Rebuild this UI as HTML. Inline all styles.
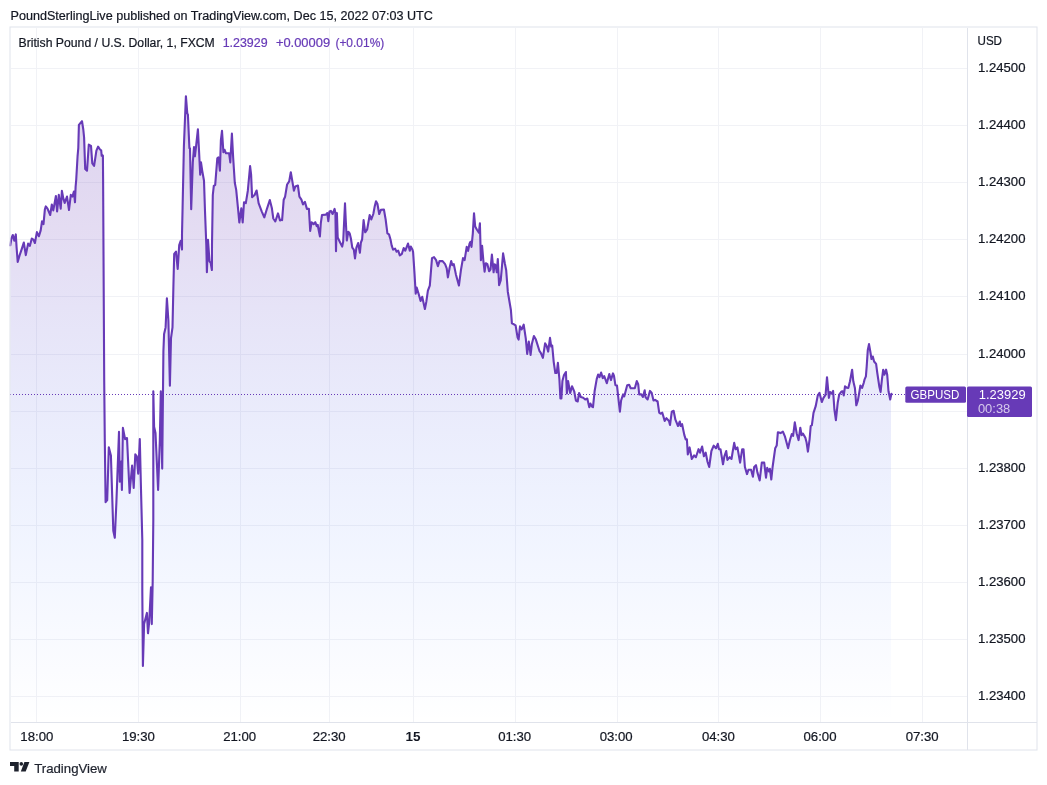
<!DOCTYPE html>
<html lang="en"><head><meta charset="utf-8"><title>GBPUSD chart</title>
<style>
html,body{margin:0;padding:0;background:#fff;}
body{width:1047px;height:785px;overflow:hidden;position:relative;font-family:"Liberation Sans",sans-serif;}
svg{position:absolute;left:0;top:0;display:block;will-change:transform;}
text{font-family:"Liberation Sans",sans-serif;font-size:12px;fill:#131722;stroke:#131722;stroke-width:0.2px;}
</style></head><body>
<svg width="1047" height="785" viewBox="0 0 1047 785">
<defs>
<linearGradient id="g" gradientUnits="userSpaceOnUse" x1="0" y1="28" x2="0" y2="722">
<stop offset="0" stop-color="rgb(103,58,183)" stop-opacity="0.25"/>
<stop offset="0.291" stop-color="rgb(103,58,183)" stop-opacity="0.177"/>
<stop offset="0.749" stop-color="rgb(41,98,255)" stop-opacity="0.063"/>
<stop offset="1" stop-color="rgb(41,98,255)" stop-opacity="0"/>
</linearGradient>
</defs>
<rect x="0" y="0" width="1047" height="785" fill="#fff"/>
<clipPath id="ac"><rect x="10" y="28" width="881" height="694"/></clipPath>

<g stroke="#f1f2f6" stroke-width="1" shape-rendering="crispEdges">
<line x1="36.5" y1="28" x2="36.5" y2="722"/>
<line x1="138.5" y1="28" x2="138.5" y2="722"/>
<line x1="240.5" y1="28" x2="240.5" y2="722"/>
<line x1="329.5" y1="28" x2="329.5" y2="722"/>
<line x1="413.5" y1="28" x2="413.5" y2="722"/>
<line x1="515.5" y1="28" x2="515.5" y2="722"/>
<line x1="617.5" y1="28" x2="617.5" y2="722"/>
<line x1="718.5" y1="28" x2="718.5" y2="722"/>
<line x1="820.5" y1="28" x2="820.5" y2="722"/>
<line x1="922.5" y1="28" x2="922.5" y2="722"/>
<line x1="11" y1="68.5" x2="967" y2="68.5"/>
<line x1="11" y1="125.5" x2="967" y2="125.5"/>
<line x1="11" y1="182.5" x2="967" y2="182.5"/>
<line x1="11" y1="239.5" x2="967" y2="239.5"/>
<line x1="11" y1="296.5" x2="967" y2="296.5"/>
<line x1="11" y1="354.5" x2="967" y2="354.5"/>
<line x1="11" y1="411.5" x2="967" y2="411.5"/>
<line x1="11" y1="468.5" x2="967" y2="468.5"/>
<line x1="11" y1="525.5" x2="967" y2="525.5"/>
<line x1="11" y1="582.5" x2="967" y2="582.5"/>
<line x1="11" y1="639.5" x2="967" y2="639.5"/>
<line x1="11" y1="696.5" x2="967" y2="696.5"/>
</g>
<path d="M10.3,245.3 L11.4,238.5 L12.8,235.0 L14.3,240.7 L15.8,234.4 L16.6,247.6 L17.7,261.9 L19.5,255.6 L21.8,248.8 L23.8,242.5 L25.8,255.1 L28.1,243.6 L29.8,245.9 L31.8,238.5 L33.4,239.6 L34.9,243.0 L36.9,232.1 L38.9,236.2 L40.7,230.4 L42.0,221.3 L43.5,224.1 L44.9,209.2 L45.8,206.4 L47.5,208.7 L50.2,215.0 L51.8,204.6 L53.3,210.4 L55.9,196.0 L57.1,211.5 L58.8,194.9 L60.7,208.7 L61.9,190.9 L63.4,198.9 L64.7,202.9 L67.0,196.6 L69.0,210.0 L70.8,194.9 L72.4,196.6 L73.9,191.5 L75.0,202.3 L75.6,186.9 L76.2,180.0 L77.6,155.8 L78.3,147.8 L78.9,124.9 L82.0,121.2 L83.3,129.5 L84.1,137.5 L85.2,169.0 L87.0,170.7 L88.8,144.6 L91.0,145.8 L92.3,163.3 L94.1,165.8 L96.4,150.7 L98.1,146.7 L100.0,149.5 L101.2,150.3 L101.7,155.8 L102.9,155.6 L103.1,178.8 L104.2,380.0 L104.8,441.1 L105.6,502.2 L107.2,500.2 L108.8,447.2 L110.9,455.4 L113.3,530.7 L114.8,537.8 L116.4,502.2 L119.0,431.9 L119.8,481.8 L121.1,461.5 L121.9,490.0 L122.9,427.9 L125.1,439.1 L127.0,438.0 L129.6,493.0 L132.1,465.5 L133.7,487.9 L135.3,454.3 L136.8,456.4 L138.2,473.7 L139.8,439.1 L140.8,481.8 L142.3,539.9 L142.3,591.4 L142.9,665.9 L144.1,624.1 L146.9,612.9 L148.0,633.3 L149.2,622.0 L151.0,587.3 L151.8,624.1 L152.7,581.2 L153.3,520.0 L153.3,391.2 L154.1,426.8 L155.5,433.0 L158.1,490.0 L159.8,441.1 L160.8,391.2 L162.2,468.6 L163.4,351.2 L164.1,333.9 L165.6,327.4 L166.9,298.2 L168.4,320.9 L169.9,385.8 L171.0,338.2 L172.5,327.4 L173.4,286.3 L174.2,253.8 L176.0,251.6 L177.7,269.0 L179.2,245.2 L180.7,240.8 L182.0,249.5 L182.0,234.8 L182.6,207.2 L183.9,146.1 L185.9,96.2 L187.3,113.5 L187.9,114.5 L189.4,148.2 L190.0,148.2 L191.2,209.3 L192.8,162.4 L194.0,147.1 L194.9,156.3 L196.1,146.1 L197.9,129.4 L199.1,152.2 L200.2,174.6 L201.0,162.4 L202.2,170.6 L204.0,180.8 L205.0,211.3 L206.3,244.9 L206.9,272.2 L208.0,239.7 L209.5,261.4 L210.6,262.5 L211.9,270.0 L212.0,244.9 L212.8,195.0 L213.8,185.9 L215.2,184.8 L217.3,158.3 L218.5,157.3 L219.9,170.6 L220.9,140.0 L222.0,130.8 L223.4,152.2 L224.6,149.8 L226.0,153.3 L229.1,153.3 L230.3,162.4 L231.9,133.5 L233.2,158.3 L234.8,182.8 L236.2,189.9 L238.3,211.3 L239.3,222.5 L241.3,208.3 L242.7,222.5 L244.0,202.2 L245.8,203.2 L247.8,190.9 L250.1,166.1 L251.1,174.6 L252.1,197.1 L254.6,195.0 L256.6,190.5 L258.6,203.2 L261.7,211.3 L264.3,217.4 L266.8,209.3 L269.8,200.1 L271.9,208.3 L273.3,218.5 L275.3,221.5 L278.0,213.4 L280.0,220.5 L282.1,219.5 L282.1,220.1 L283.7,199.7 L285.1,196.7 L287.1,184.5 L289.2,181.4 L290.8,172.2 L292.2,180.4 L293.9,190.6 L295.3,186.5 L297.9,185.5 L299.4,196.7 L301.4,199.7 L303.0,204.4 L304.9,201.8 L306.9,208.9 L308.9,208.9 L310.2,230.9 L311.6,222.2 L313.6,224.2 L315.3,222.2 L316.7,226.2 L317.7,224.8 L318.7,230.3 L319.9,236.4 L320.8,223.2 L322.0,215.0 L325.9,214.6 L327.3,213.0 L328.3,221.1 L329.5,211.4 L330.9,210.9 L332.6,214.0 L334.6,208.9 L335.4,213.0 L336.0,251.3 L336.9,213.0 L337.7,237.4 L340.1,242.5 L342.2,246.6 L343.2,241.5 L345.0,203.2 L345.8,221.1 L346.8,240.5 L348.3,231.7 L349.7,233.4 L350.9,238.5 L352.3,247.6 L353.8,249.7 L355.0,258.4 L356.4,247.6 L358.1,243.1 L359.9,252.7 L360.9,242.5 L362.1,239.5 L363.6,220.1 L365.2,232.3 L367.2,229.3 L369.7,215.0 L371.3,219.5 L373.3,214.0 L374.8,205.9 L376.0,201.2 L377.4,203.8 L379.2,214.0 L380.9,209.9 L383.9,209.5 L385.6,219.1 L387.4,233.4 L389.0,234.4 L390.5,239.5 L391.7,245.6 L393.1,249.7 L395.1,248.6 L396.6,251.7 L398.2,250.7 L399.8,255.4 L401.7,254.2 L403.7,248.0 L405.3,250.7 L408.0,243.6 L409.8,250.7 L410.8,246.6 L412.5,249.7 L413.1,252.0 L414.5,273.4 L415.7,293.7 L416.7,287.6 L418.6,293.7 L420.6,300.9 L422.2,296.8 L424.9,309.0 L426.3,301.9 L427.9,290.7 L429.8,285.6 L432.0,258.1 L434.0,257.1 L436.1,260.1 L437.9,266.2 L439.5,261.1 L442.6,261.1 L445.1,264.2 L446.7,268.3 L447.9,277.4 L449.7,267.3 L451.2,261.1 L452.4,265.2 L453.8,264.2 L455.9,274.4 L458.9,285.6 L460.9,270.3 L463.0,258.1 L464.6,260.1 L466.7,246.9 L468.1,250.9 L469.5,243.8 L470.5,241.8 L471.5,246.9 L472.8,233.6 L474.0,213.2 L475.2,226.5 L476.8,229.5 L478.9,232.6 L479.9,223.4 L480.9,260.1 L482.1,245.9 L483.4,261.1 L484.6,271.7 L485.8,263.2 L487.4,264.2 L489.1,271.3 L490.5,269.3 L491.9,254.6 L493.6,272.3 L494.6,264.2 L495.6,265.2 L496.8,272.3 L497.8,259.1 L499.1,285.2 L500.7,280.5 L501.7,269.3 L503.1,253.4 L504.8,263.2 L506.2,270.3 L507.8,291.7 L510.9,310.0 L511.9,323.3 L513.9,324.3 L515.6,325.3 L517.6,337.6 L518.6,339.6 L520.0,326.4 L521.7,329.4 L523.7,324.7 L525.8,338.6 L527.2,353.9 L528.8,341.6 L530.6,354.9 L531.9,343.7 L533.9,336.1 L535.9,339.6 L539.4,350.8 L540.8,352.8 L542.9,357.9 L545.1,343.4 L546.5,345.5 L548.2,351.6 L550.0,337.9 L551.2,346.5 L552.2,345.5 L553.7,361.8 L555.3,373.0 L556.7,373.0 L557.9,362.8 L559.4,379.1 L560.4,398.5 L561.4,398.5 L562.4,381.1 L564.0,375.0 L565.9,372.0 L566.9,393.4 L568.1,381.1 L570.2,393.0 L572.0,386.2 L574.2,391.3 L575.9,400.5 L577.7,401.5 L579.1,393.0 L580.8,397.0 L583.2,397.8 L585.2,399.5 L587.3,398.5 L589.3,407.2 L590.5,403.6 L592.0,406.6 L593.0,407.2 L594.6,391.3 L596.7,379.1 L598.1,374.6 L599.5,377.1 L601.1,372.6 L602.8,378.1 L604.2,376.0 L606.8,383.2 L609.3,374.0 L610.9,380.1 L613.0,373.4 L614.0,376.0 L615.4,385.2 L617.0,385.6 L618.5,399.5 L619.9,411.7 L621.1,400.5 L623.1,394.4 L624.2,396.4 L627.2,385.2 L629.1,384.8 L630.7,388.3 L634.8,388.3 L636.8,381.1 L638.2,384.2 L639.2,394.4 L641.3,394.4 L642.9,397.0 L644.7,390.3 L645.6,397.4 L647.6,399.5 L650.0,390.9 L651.7,393.0 L653.5,400.5 L655.1,399.9 L657.6,401.5 L659.2,412.7 L660.6,413.7 L662.3,412.7 L664.7,420.9 L666.4,418.2 L669.0,420.9 L670.0,425.0 L671.8,411.7 L673.6,410.8 L675.4,419.7 L678.0,426.0 L679.8,421.5 L680.7,426.0 L682.1,424.2 L684.3,434.9 L685.7,439.4 L686.9,439.4 L687.8,454.5 L689.6,447.4 L691.8,459.0 L694.1,455.4 L695.9,457.2 L698.5,449.2 L700.0,452.7 L702.1,446.5 L703.9,456.3 L705.7,452.7 L707.5,461.7 L709.2,467.0 L711.4,451.0 L713.7,445.6 L716.0,448.3 L717.8,443.8 L719.0,449.2 L720.5,449.2 L723.0,464.3 L724.4,456.3 L726.2,451.0 L727.4,459.9 L729.7,457.2 L731.5,459.0 L732.8,451.0 L734.2,442.9 L735.6,449.2 L737.4,447.4 L740.1,462.6 L742.2,449.2 L743.5,449.2 L744.9,467.0 L747.0,474.1 L748.5,469.7 L751.1,469.7 L752.9,476.8 L754.2,467.0 L756.0,465.2 L757.4,472.4 L759.7,480.4 L761.8,462.6 L764.2,462.6 L766.0,477.7 L767.2,467.9 L769.0,471.5 L769.9,468.8 L771.3,479.5 L772.6,467.0 L775.2,448.3 L776.7,445.6 L777.9,432.2 L780.6,433.1 L782.9,431.7 L785.0,436.7 L788.1,448.3 L789.9,440.3 L791.8,434.0 L793.1,435.8 L794.8,422.4 L796.7,433.5 L798.6,440.1 L800.3,427.7 L801.6,435.1 L802.9,433.5 L805.3,437.6 L806.6,442.6 L807.9,451.7 L809.6,439.3 L810.7,426.0 L811.9,425.2 L813.5,412.8 L815.7,406.2 L817.8,395.4 L819.5,392.9 L821.8,402.0 L823.5,397.9 L825.6,394.6 L827.0,377.2 L828.9,397.9 L830.1,392.1 L831.8,393.7 L833.1,390.9 L834.4,409.5 L835.9,420.2 L837.7,402.8 L839.2,394.6 L841.4,391.6 L842.7,391.3 L843.8,395.4 L845.0,386.3 L846.7,387.6 L848.3,387.9 L850.0,381.3 L852.1,369.7 L853.3,381.3 L854.9,387.9 L856.3,405.3 L857.9,400.4 L859.2,392.9 L860.4,385.5 L862.1,387.9 L863.7,383.0 L864.5,379.7 L865.9,376.4 L866.7,366.4 L867.8,349.9 L869.0,344.1 L870.3,351.5 L871.5,359.0 L872.8,356.5 L874.1,361.5 L876.1,363.9 L877.3,373.0 L879.4,387.1 L880.6,392.1 L881.9,379.7 L883.2,369.7 L884.4,374.7 L886.1,369.7 L887.2,374.7 L888.5,391.3 L890.2,399.5 L891.4,393.7 L891.4,722 L10.3,722 Z" fill="url(#g)" stroke="none" clip-path="url(#ac)"/>
<path d="M10.3,245.3 L11.4,238.5 L12.8,235.0 L14.3,240.7 L15.8,234.4 L16.6,247.6 L17.7,261.9 L19.5,255.6 L21.8,248.8 L23.8,242.5 L25.8,255.1 L28.1,243.6 L29.8,245.9 L31.8,238.5 L33.4,239.6 L34.9,243.0 L36.9,232.1 L38.9,236.2 L40.7,230.4 L42.0,221.3 L43.5,224.1 L44.9,209.2 L45.8,206.4 L47.5,208.7 L50.2,215.0 L51.8,204.6 L53.3,210.4 L55.9,196.0 L57.1,211.5 L58.8,194.9 L60.7,208.7 L61.9,190.9 L63.4,198.9 L64.7,202.9 L67.0,196.6 L69.0,210.0 L70.8,194.9 L72.4,196.6 L73.9,191.5 L75.0,202.3 L75.6,186.9 L76.2,180.0 L77.6,155.8 L78.3,147.8 L78.9,124.9 L82.0,121.2 L83.3,129.5 L84.1,137.5 L85.2,169.0 L87.0,170.7 L88.8,144.6 L91.0,145.8 L92.3,163.3 L94.1,165.8 L96.4,150.7 L98.1,146.7 L100.0,149.5 L101.2,150.3 L101.7,155.8 L102.9,155.6 L103.1,178.8 L104.2,380.0 L104.8,441.1 L105.6,502.2 L107.2,500.2 L108.8,447.2 L110.9,455.4 L113.3,530.7 L114.8,537.8 L116.4,502.2 L119.0,431.9 L119.8,481.8 L121.1,461.5 L121.9,490.0 L122.9,427.9 L125.1,439.1 L127.0,438.0 L129.6,493.0 L132.1,465.5 L133.7,487.9 L135.3,454.3 L136.8,456.4 L138.2,473.7 L139.8,439.1 L140.8,481.8 L142.3,539.9 L142.3,591.4 L142.9,665.9 L144.1,624.1 L146.9,612.9 L148.0,633.3 L149.2,622.0 L151.0,587.3 L151.8,624.1 L152.7,581.2 L153.3,520.0 L153.3,391.2 L154.1,426.8 L155.5,433.0 L158.1,490.0 L159.8,441.1 L160.8,391.2 L162.2,468.6 L163.4,351.2 L164.1,333.9 L165.6,327.4 L166.9,298.2 L168.4,320.9 L169.9,385.8 L171.0,338.2 L172.5,327.4 L173.4,286.3 L174.2,253.8 L176.0,251.6 L177.7,269.0 L179.2,245.2 L180.7,240.8 L182.0,249.5 L182.0,234.8 L182.6,207.2 L183.9,146.1 L185.9,96.2 L187.3,113.5 L187.9,114.5 L189.4,148.2 L190.0,148.2 L191.2,209.3 L192.8,162.4 L194.0,147.1 L194.9,156.3 L196.1,146.1 L197.9,129.4 L199.1,152.2 L200.2,174.6 L201.0,162.4 L202.2,170.6 L204.0,180.8 L205.0,211.3 L206.3,244.9 L206.9,272.2 L208.0,239.7 L209.5,261.4 L210.6,262.5 L211.9,270.0 L212.0,244.9 L212.8,195.0 L213.8,185.9 L215.2,184.8 L217.3,158.3 L218.5,157.3 L219.9,170.6 L220.9,140.0 L222.0,130.8 L223.4,152.2 L224.6,149.8 L226.0,153.3 L229.1,153.3 L230.3,162.4 L231.9,133.5 L233.2,158.3 L234.8,182.8 L236.2,189.9 L238.3,211.3 L239.3,222.5 L241.3,208.3 L242.7,222.5 L244.0,202.2 L245.8,203.2 L247.8,190.9 L250.1,166.1 L251.1,174.6 L252.1,197.1 L254.6,195.0 L256.6,190.5 L258.6,203.2 L261.7,211.3 L264.3,217.4 L266.8,209.3 L269.8,200.1 L271.9,208.3 L273.3,218.5 L275.3,221.5 L278.0,213.4 L280.0,220.5 L282.1,219.5 L282.1,220.1 L283.7,199.7 L285.1,196.7 L287.1,184.5 L289.2,181.4 L290.8,172.2 L292.2,180.4 L293.9,190.6 L295.3,186.5 L297.9,185.5 L299.4,196.7 L301.4,199.7 L303.0,204.4 L304.9,201.8 L306.9,208.9 L308.9,208.9 L310.2,230.9 L311.6,222.2 L313.6,224.2 L315.3,222.2 L316.7,226.2 L317.7,224.8 L318.7,230.3 L319.9,236.4 L320.8,223.2 L322.0,215.0 L325.9,214.6 L327.3,213.0 L328.3,221.1 L329.5,211.4 L330.9,210.9 L332.6,214.0 L334.6,208.9 L335.4,213.0 L336.0,251.3 L336.9,213.0 L337.7,237.4 L340.1,242.5 L342.2,246.6 L343.2,241.5 L345.0,203.2 L345.8,221.1 L346.8,240.5 L348.3,231.7 L349.7,233.4 L350.9,238.5 L352.3,247.6 L353.8,249.7 L355.0,258.4 L356.4,247.6 L358.1,243.1 L359.9,252.7 L360.9,242.5 L362.1,239.5 L363.6,220.1 L365.2,232.3 L367.2,229.3 L369.7,215.0 L371.3,219.5 L373.3,214.0 L374.8,205.9 L376.0,201.2 L377.4,203.8 L379.2,214.0 L380.9,209.9 L383.9,209.5 L385.6,219.1 L387.4,233.4 L389.0,234.4 L390.5,239.5 L391.7,245.6 L393.1,249.7 L395.1,248.6 L396.6,251.7 L398.2,250.7 L399.8,255.4 L401.7,254.2 L403.7,248.0 L405.3,250.7 L408.0,243.6 L409.8,250.7 L410.8,246.6 L412.5,249.7 L413.1,252.0 L414.5,273.4 L415.7,293.7 L416.7,287.6 L418.6,293.7 L420.6,300.9 L422.2,296.8 L424.9,309.0 L426.3,301.9 L427.9,290.7 L429.8,285.6 L432.0,258.1 L434.0,257.1 L436.1,260.1 L437.9,266.2 L439.5,261.1 L442.6,261.1 L445.1,264.2 L446.7,268.3 L447.9,277.4 L449.7,267.3 L451.2,261.1 L452.4,265.2 L453.8,264.2 L455.9,274.4 L458.9,285.6 L460.9,270.3 L463.0,258.1 L464.6,260.1 L466.7,246.9 L468.1,250.9 L469.5,243.8 L470.5,241.8 L471.5,246.9 L472.8,233.6 L474.0,213.2 L475.2,226.5 L476.8,229.5 L478.9,232.6 L479.9,223.4 L480.9,260.1 L482.1,245.9 L483.4,261.1 L484.6,271.7 L485.8,263.2 L487.4,264.2 L489.1,271.3 L490.5,269.3 L491.9,254.6 L493.6,272.3 L494.6,264.2 L495.6,265.2 L496.8,272.3 L497.8,259.1 L499.1,285.2 L500.7,280.5 L501.7,269.3 L503.1,253.4 L504.8,263.2 L506.2,270.3 L507.8,291.7 L510.9,310.0 L511.9,323.3 L513.9,324.3 L515.6,325.3 L517.6,337.6 L518.6,339.6 L520.0,326.4 L521.7,329.4 L523.7,324.7 L525.8,338.6 L527.2,353.9 L528.8,341.6 L530.6,354.9 L531.9,343.7 L533.9,336.1 L535.9,339.6 L539.4,350.8 L540.8,352.8 L542.9,357.9 L545.1,343.4 L546.5,345.5 L548.2,351.6 L550.0,337.9 L551.2,346.5 L552.2,345.5 L553.7,361.8 L555.3,373.0 L556.7,373.0 L557.9,362.8 L559.4,379.1 L560.4,398.5 L561.4,398.5 L562.4,381.1 L564.0,375.0 L565.9,372.0 L566.9,393.4 L568.1,381.1 L570.2,393.0 L572.0,386.2 L574.2,391.3 L575.9,400.5 L577.7,401.5 L579.1,393.0 L580.8,397.0 L583.2,397.8 L585.2,399.5 L587.3,398.5 L589.3,407.2 L590.5,403.6 L592.0,406.6 L593.0,407.2 L594.6,391.3 L596.7,379.1 L598.1,374.6 L599.5,377.1 L601.1,372.6 L602.8,378.1 L604.2,376.0 L606.8,383.2 L609.3,374.0 L610.9,380.1 L613.0,373.4 L614.0,376.0 L615.4,385.2 L617.0,385.6 L618.5,399.5 L619.9,411.7 L621.1,400.5 L623.1,394.4 L624.2,396.4 L627.2,385.2 L629.1,384.8 L630.7,388.3 L634.8,388.3 L636.8,381.1 L638.2,384.2 L639.2,394.4 L641.3,394.4 L642.9,397.0 L644.7,390.3 L645.6,397.4 L647.6,399.5 L650.0,390.9 L651.7,393.0 L653.5,400.5 L655.1,399.9 L657.6,401.5 L659.2,412.7 L660.6,413.7 L662.3,412.7 L664.7,420.9 L666.4,418.2 L669.0,420.9 L670.0,425.0 L671.8,411.7 L673.6,410.8 L675.4,419.7 L678.0,426.0 L679.8,421.5 L680.7,426.0 L682.1,424.2 L684.3,434.9 L685.7,439.4 L686.9,439.4 L687.8,454.5 L689.6,447.4 L691.8,459.0 L694.1,455.4 L695.9,457.2 L698.5,449.2 L700.0,452.7 L702.1,446.5 L703.9,456.3 L705.7,452.7 L707.5,461.7 L709.2,467.0 L711.4,451.0 L713.7,445.6 L716.0,448.3 L717.8,443.8 L719.0,449.2 L720.5,449.2 L723.0,464.3 L724.4,456.3 L726.2,451.0 L727.4,459.9 L729.7,457.2 L731.5,459.0 L732.8,451.0 L734.2,442.9 L735.6,449.2 L737.4,447.4 L740.1,462.6 L742.2,449.2 L743.5,449.2 L744.9,467.0 L747.0,474.1 L748.5,469.7 L751.1,469.7 L752.9,476.8 L754.2,467.0 L756.0,465.2 L757.4,472.4 L759.7,480.4 L761.8,462.6 L764.2,462.6 L766.0,477.7 L767.2,467.9 L769.0,471.5 L769.9,468.8 L771.3,479.5 L772.6,467.0 L775.2,448.3 L776.7,445.6 L777.9,432.2 L780.6,433.1 L782.9,431.7 L785.0,436.7 L788.1,448.3 L789.9,440.3 L791.8,434.0 L793.1,435.8 L794.8,422.4 L796.7,433.5 L798.6,440.1 L800.3,427.7 L801.6,435.1 L802.9,433.5 L805.3,437.6 L806.6,442.6 L807.9,451.7 L809.6,439.3 L810.7,426.0 L811.9,425.2 L813.5,412.8 L815.7,406.2 L817.8,395.4 L819.5,392.9 L821.8,402.0 L823.5,397.9 L825.6,394.6 L827.0,377.2 L828.9,397.9 L830.1,392.1 L831.8,393.7 L833.1,390.9 L834.4,409.5 L835.9,420.2 L837.7,402.8 L839.2,394.6 L841.4,391.6 L842.7,391.3 L843.8,395.4 L845.0,386.3 L846.7,387.6 L848.3,387.9 L850.0,381.3 L852.1,369.7 L853.3,381.3 L854.9,387.9 L856.3,405.3 L857.9,400.4 L859.2,392.9 L860.4,385.5 L862.1,387.9 L863.7,383.0 L864.5,379.7 L865.9,376.4 L866.7,366.4 L867.8,349.9 L869.0,344.1 L870.3,351.5 L871.5,359.0 L872.8,356.5 L874.1,361.5 L876.1,363.9 L877.3,373.0 L879.4,387.1 L880.6,392.1 L881.9,379.7 L883.2,369.7 L884.4,374.7 L886.1,369.7 L887.2,374.7 L888.5,391.3 L890.2,399.5 L891.4,393.7" fill="none" stroke="#673ab7" stroke-width="2.1" stroke-linejoin="round" stroke-linecap="round"/>
<line x1="10" y1="394.5" x2="905" y2="394.5" stroke="#673ab7" stroke-width="1" stroke-dasharray="1 2" shape-rendering="crispEdges"/>
<rect x="10" y="27" width="1027" height="723" stroke="#e0e3eb" stroke-width="1" fill="none"/>
<g stroke="#e0e3eb" stroke-width="1" fill="none" shape-rendering="crispEdges">
<line x1="967.5" y1="28" x2="967.5" y2="750"/>
<line x1="11" y1="722.5" x2="1037" y2="722.5"/>
</g>
<text x="10.5" y="19.8" textLength="422.3" lengthAdjust="spacingAndGlyphs">PoundSterlingLive published on TradingView.com, Dec 15, 2022 07:03 UTC</text>
<text x="18.5" y="46.8" textLength="196.3" lengthAdjust="spacingAndGlyphs">British Pound / U.S. Dollar, 1, FXCM</text>
<text x="222.7" y="46.8" textLength="44.9" lengthAdjust="spacingAndGlyphs" style="fill:#673ab7;stroke:#673ab7">1.23929</text>
<text x="275.9" y="46.8" textLength="54.2" lengthAdjust="spacingAndGlyphs" style="fill:#673ab7;stroke:#673ab7">+0.00009</text>
<text x="335.4" y="46.8" textLength="48.9" lengthAdjust="spacingAndGlyphs" style="fill:#673ab7;stroke:#673ab7">(+0.01%)</text>
<text x="977.5" y="44.7" textLength="24.5" lengthAdjust="spacingAndGlyphs">USD</text>
<text x="978" y="72.3" textLength="47.5" lengthAdjust="spacingAndGlyphs">1.24500</text>
<text x="978" y="129.3" textLength="47.5" lengthAdjust="spacingAndGlyphs">1.24400</text>
<text x="978" y="186.3" textLength="47.5" lengthAdjust="spacingAndGlyphs">1.24300</text>
<text x="978" y="243.3" textLength="47.5" lengthAdjust="spacingAndGlyphs">1.24200</text>
<text x="978" y="300.3" textLength="47.5" lengthAdjust="spacingAndGlyphs">1.24100</text>
<text x="978" y="358.3" textLength="47.5" lengthAdjust="spacingAndGlyphs">1.24000</text>
<text x="978" y="472.3" textLength="47.5" lengthAdjust="spacingAndGlyphs">1.23800</text>
<text x="978" y="529.3" textLength="47.5" lengthAdjust="spacingAndGlyphs">1.23700</text>
<text x="978" y="586.3" textLength="47.5" lengthAdjust="spacingAndGlyphs">1.23600</text>
<text x="978" y="643.3" textLength="47.5" lengthAdjust="spacingAndGlyphs">1.23500</text>
<text x="978" y="700.3" textLength="47.5" lengthAdjust="spacingAndGlyphs">1.23400</text>
<text x="36.8" y="740.7" text-anchor="middle" textLength="33" lengthAdjust="spacingAndGlyphs">18:00</text>
<text x="138.4" y="740.7" text-anchor="middle" textLength="33" lengthAdjust="spacingAndGlyphs">19:30</text>
<text x="239.7" y="740.7" text-anchor="middle" textLength="33" lengthAdjust="spacingAndGlyphs">21:00</text>
<text x="329.2" y="740.7" text-anchor="middle" textLength="33" lengthAdjust="spacingAndGlyphs">22:30</text>
<text x="413.1" y="740.7" text-anchor="middle" textLength="15" lengthAdjust="spacingAndGlyphs" style="font-weight:bold;stroke:none">15</text>
<text x="514.7" y="740.7" text-anchor="middle" textLength="33" lengthAdjust="spacingAndGlyphs">01:30</text>
<text x="616.2" y="740.7" text-anchor="middle" textLength="33" lengthAdjust="spacingAndGlyphs">03:00</text>
<text x="718.4" y="740.7" text-anchor="middle" textLength="33" lengthAdjust="spacingAndGlyphs">04:30</text>
<text x="820.0" y="740.7" text-anchor="middle" textLength="33" lengthAdjust="spacingAndGlyphs">06:00</text>
<text x="922.2" y="740.7" text-anchor="middle" textLength="33" lengthAdjust="spacingAndGlyphs">07:30</text>
<rect x="905.3" y="386.4" width="60.7" height="16.3" rx="1.5" fill="#673ab7"/>
<rect x="967" y="386.4" width="65" height="30.6" rx="1.5" fill="#673ab7"/>
<text x="910.6" y="399.2" textLength="48.7" lengthAdjust="spacingAndGlyphs" style="fill:#fff;stroke:none">GBPUSD</text>
<text x="978.8" y="399.2" textLength="46.8" lengthAdjust="spacingAndGlyphs" style="fill:#fff;stroke:none">1.23929</text>
<text x="977.9" y="412.6" textLength="32.4" lengthAdjust="spacingAndGlyphs" style="fill:#fff;fill-opacity:0.72;stroke:none">00:38</text>
<g fill="#1e222d">
<path d="M10,762.1 H18.7 V771.6 H14.2 V766 H10 Z"/>
<circle cx="21.3" cy="763.9" r="1.8"/>
<path d="M24.4,762.1 H29.4 L25.7,771.6 H20.8 Z"/>
</g>
<text x="34.2" y="772.6" textLength="72.7" lengthAdjust="spacingAndGlyphs" style="font-size:13px;fill:#1e222d;stroke:#1e222d">TradingView</text>
</svg></body></html>
